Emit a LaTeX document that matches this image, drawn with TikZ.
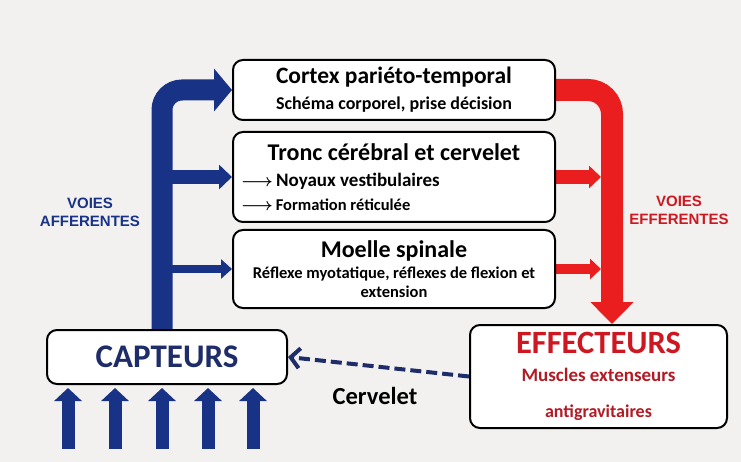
\documentclass[tikz,border=0pt]{standalone}
\usepackage{fontspec}
\setmainfont{Carlito}
\newfontfamily\arialfont{Liberation Sans}
\usetikzlibrary{arrows.meta,backgrounds}

\definecolor{afferent}{RGB}{24,50,134}
\definecolor{capblue}{RGB}{30,44,105}
\definecolor{efferent}{RGB}{234,30,30}
\definecolor{effred}{RGB}{205,24,34}
\definecolor{musred}{RGB}{178,26,36}
\definecolor{paper}{RGB}{242,241,239}

\tikzset{
  box/.style={draw=black, line width=2pt, rounded corners=10pt, fill=white,
    inner sep=0pt, align=center, font=\bfseries},
  voies/.style={font=\arialfont\bfseries\fontsize{15}{18}\selectfont, align=center}
}
\newcommand{\longarr}{{\boldmath$\longrightarrow$}}

\begin{document}
\begin{tikzpicture}[x=1pt,y=1pt,yscale=-1,xscale=1]
\useasboundingbox (0,0) rectangle (741,462);

% Boxes
\node[box, minimum width=322, minimum height=60] (cortex) at (394,90)
  {{\fontsize{23.5}{24}\selectfont Cortex pariéto-temporal}\\[9pt]
   {\fontsize{18}{18}\selectfont Schéma corporel, prise décision}};
\node[box, minimum width=322, minimum height=90, align=left] (tronc) at (394,177)
  {\makebox[306pt][c]{\fontsize{24}{24}\selectfont Tronc cérébral et cervelet}\\[12pt]
   {\fontsize{19}{19}\selectfont \longarr\,Noyaux vestibulaires}\\[8pt]
   {\fontsize{16.5}{17}\selectfont \longarr\,Formation réticulée}};
\node[box, minimum width=322, minimum height=78] (moelle) at (394,269)
  {{\fontsize{24}{24}\selectfont Moelle spinale}\\[5pt]
   {\fontsize{16.5}{17}\selectfont Réflexe myotatique, réflexes de flexion et}\\[3pt]
   {\fontsize{16.5}{17}\selectfont extension}};
\node[box, minimum width=240, minimum height=54, text=capblue,
  font=\bfseries\fontsize{33}{34}\selectfont] (capteurs) at (167,357) {CAPTEURS};
\node[box, minimum width=257, minimum height=103] (effecteurs) at (598.5,376.5)
  {{\fontsize{32.5}{33}\selectfont\color{effred} EFFECTEURS}\\[13pt]
   {\fontsize{19}{19}\selectfont\color{musred} Muscles extenseurs}\\[22pt]
   {\fontsize{18}{18}\selectfont\color{musred} antigravitaires}};

% Text Node
\node[voies, text=afferent] (voiesaff) at (90,212) {VOIES\\AFFERENTES};
% Text Node
\node[voies, text=effred] (voieseff) at (679,210) {VOIES\\EFFERENTES};
% Text Node
\node[font=\bfseries\fontsize{24.5}{25}\selectfont] (cervelet) at (375,396) {Cervelet};

\coordinate (bluetrunk) at ([xshift=-5pt]capteurs.north);
\coordinate (redtrunk) at ([xshift=13.5pt]effecteurs.north);

\begin{scope}[on background layer]
\fill[paper] (0,0) rectangle (741,462);
% afferent pathway
\draw[afferent, line width=21pt, rounded corners=20pt, -{Triangle[length=18pt,width=42pt]}]
  (bluetrunk) |- (cortex.west);
\draw[afferent, line width=14pt, -{Triangle[length=13pt,width=24pt]}]
  (bluetrunk |- tronc.west) -- (tronc.west);
\draw[afferent, line width=8pt, -{Triangle[length=11pt,width=19pt]}]
  (bluetrunk |- moelle.west) -- (moelle.west);
% efferent pathway
\draw[efferent, line width=22pt, rounded corners=24pt, -{Triangle[length=22pt,width=42pt]}]
  (cortex.east) -| (redtrunk);
\draw[efferent, line width=14pt, shorten >=11pt, -{Triangle[length=12pt,width=22pt]}]
  (tronc.east) -- (tronc.east -| redtrunk);
\draw[efferent, line width=9pt, shorten >=11pt, -{Triangle[length=11pt,width=20pt]}]
  (moelle.east) -- (moelle.east -| redtrunk);
% feedback
\draw[capblue, line width=4pt, dash pattern=on 11pt off 5pt,
  -{Straight Barb[length=9pt,width=20pt]}] (effecteurs.west) -- (capteurs.east);
% sensory inputs
\foreach \x [count=\i] in {68,115,162,208,253}{
  \coordinate (in\i) at (\x,449);
  \draw[afferent, line width=13pt, shorten >=3pt, -{Triangle[length=13pt,width=27pt]}]
    (in\i) -- (in\i |- capteurs.south);
}
\end{scope}
\end{tikzpicture}
\end{document}
